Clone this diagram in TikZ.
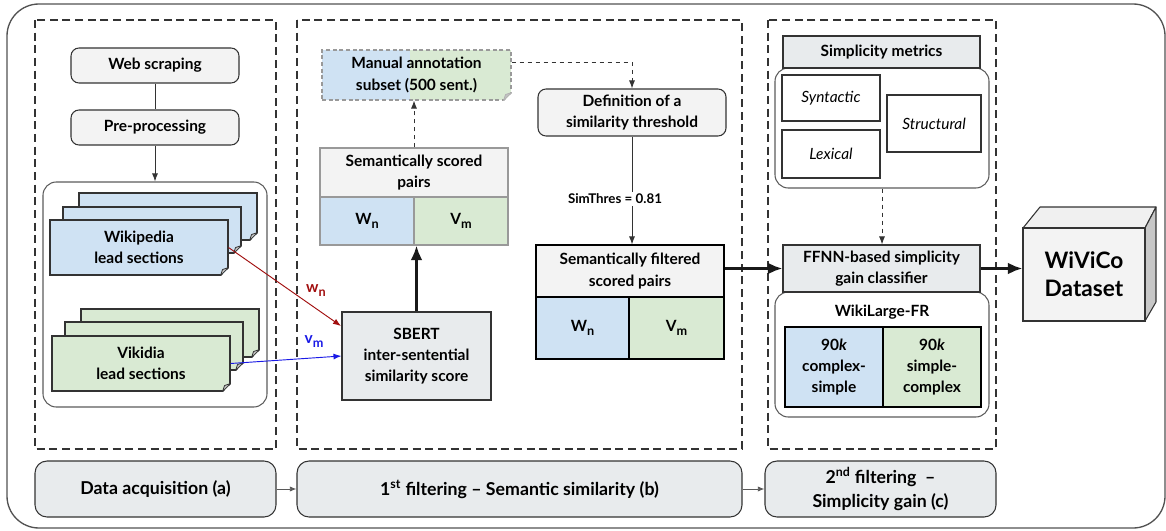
\documentclass[tikz,border=0pt]{standalone}
\usepackage{fontspec}
\setmainfont{Lato}
\usetikzlibrary{arrows.meta,calc,positioning}
\definecolor{docblue}{HTML}{CFE2F3}
\definecolor{docgreen}{HTML}{D9EAD3}
\definecolor{boxgray}{HTML}{F3F3F3}
\definecolor{stepgray}{HTML}{E8EBED}
\definecolor{edgegray}{HTML}{333333}
\definecolor{foldgray}{HTML}{9A9A9A}
\definecolor{wnred}{HTML}{A10E0E}
\definecolor{vmblue}{HTML}{1A1AE6}
\newcommand{\lbl}{\fontsize{11.6}{16}\selectfont\bfseries}
\newcommand{\sub}[1]{\raisebox{-0.5ex}{\fontsize{9.5}{9.5}\selectfont #1}}
\newcommand{\dogear}[2]{%
  \fill[white] ($(#1.south east)+(-8,1)$) -- ($(#1.south east)+(1,1)$) -- ($(#1.south east)+(1,-8)$) -- cycle;
  \filldraw[draw=#2, fill=foldgray!60, line width=0.6pt, line join=round] ($(#1.south east)+(-8,0)$) -- ($(#1.south east)+(0,-8)$) -- ($(#1.south east)+(-6,-6)$) -- cycle;}
\begin{document}
\begin{tikzpicture}[x=0.75pt, y=-0.75pt,
  sz/.style 2 args={minimum width=#1*0.75pt, minimum height=#2*0.75pt},
  box/.style={draw=edgegray, line width=0.8pt, inner sep=0pt, align=center, font=\lbl},
  roundbox/.style={box, rounded corners=6pt, fill=boxgray},
  stepbox/.style={box, rounded corners=9pt, fill=stepgray, font=\fontsize{13.3}{18}\selectfont\bfseries},
  holder/.style={draw=edgegray!80, line width=0.8pt, rounded corners=10pt, fill=white, inner sep=0pt},
  doc/.style={box, fill=#1},
  metric/.style={box, fill=white, font=\fontsize{11.6}{13}\selectfont\itshape},
  panel/.style={draw=edgegray, line width=0.9pt, dash pattern=on 6pt off 3.5pt},
  flow/.style={-{Latex[length=6pt,width=4.5pt]}, line width=0.7pt, draw=edgegray},
  dflow/.style={flow, dash pattern=on 3.5pt off 2.5pt},
  bigflow/.style={-{Latex[length=11pt,width=9pt]}, line width=2.4pt, draw=black!90}]
\useasboundingbox (0,0) rectangle (1166,531);
\draw[draw=edgegray!85, line width=1pt, rounded corners=24pt] (7,4) rectangle (1165,528);
\draw[panel] (35,20) rectangle (276,449);
\draw[panel] (297,20) rectangle (742,449);
\draw[panel] (768,20) rectangle (996,449);

\node[roundbox, sz={168}{35}] (web) at (155,65.5) {Web scraping};
\node[roundbox, sz={168}{35}] (prep) at (155,127.5) {Pre-processing};
\node[holder, sz={224}{225}] (acq) at (155,294.5) {};
\node[doc=docblue, sz={178}{47}] (wikiC) at (168,216.5) {}; \dogear{wikiC}{edgegray}
\node[doc=docblue, sz={178}{46}] (wikiB) at (152,230) {}; \dogear{wikiB}{edgegray}
\node[doc=docblue, sz={178}{55}] (wiki) at (139,247.5) {Wikipedia\\lead sections}; \dogear{wiki}{edgegray}
\node[doc=docgreen, sz={178}{48}] (vikiC) at (170,333) {}; \dogear{vikiC}{edgegray}
\node[doc=docgreen, sz={178}{48}] (vikiB) at (154,346) {}; \dogear{vikiB}{edgegray}
\node[doc=docgreen, sz={178}{55}] (viki) at (141,363.5) {Vikidia\\lead sections}; \dogear{viki}{edgegray}
\draw[line width=0.7pt, draw=edgegray] (web) -- (prep);
\draw[flow] (prep) -- (acq);

\node[box, fill=stepgray, sz={149}{88}] (sbert) at (416.5,356) {SBERT\\inter-sentential\\similarity score};
\node[box, draw=black!40, fill=boxgray, sz={188}{49}] (shead) at (414,172.5) {Semantically scored\\pairs};
\node[box, draw=black!40, fill=docblue, sz={94}{48}] (swn) at (367,221) {W\sub{n}};
\node[box, draw=black!40, fill=docgreen, sz={94}{48}] (svm) at (461,221) {V\sub{m}};
\node[box, draw=black!40, dash pattern=on 3pt off 2pt, sz={189}{50}, path picture={
  \fill[docblue] (path picture bounding box.north west) rectangle ($(path picture bounding box.south)+(-7,0)$);
  \fill[docgreen] ($(path picture bounding box.north)+(-7,0)$) rectangle (path picture bounding box.south east);}] (manual) at (416.5,75) {Manual annotation\\subset (500 sent.)};
\dogear{manual}{black!30}
\node[roundbox, sz={188}{47}] (defn) at (632,112.5) {Definition of a\\similarity threshold};
\node[box, draw=black, fill=boxgray, sz={188}{52}] (fhead) at (630,271) {Semantically filtered\\scored pairs};
\node[box, draw=black, fill=docblue, sz={93}{62}] (fwn) at (582.5,328) {W\sub{n}};
\node[box, draw=black, fill=docgreen, sz={95}{62}] (fvm) at (676.5,328) {V\sub{m}};
\coordinate (sbin) at (341,326);
\draw[flow, draw=wnred] (wiki.east) -- (sbin);
\draw[flow, draw=vmblue] (viki.east) -- (sbert.west);
\node[font=\lbl, text=wnred] (wnlab) at (316,291) {w\sub{n}};
\node[font=\lbl, text=vmblue] (vmlab) at (314,342) {v\sub{m}};
\draw[bigflow] (sbert.north) -- (sbert.north |- swn.south);
\draw[dflow] (shead.north) -- (shead.north |- manual.south);
\coordinate (mout) at ($(manual.north east)!0.25!(manual.south east)$);
\draw[dflow] (mout) -| (defn.north);
\draw[flow] (defn.south) -- (defn.south |- fhead.north);
\node[fill=white, inner sep=1.5pt, font=\fontsize{10}{11}\selectfont\bfseries] (simthres) at (615,199) {SimThres = 0.81};

\node[holder, sz={214}{120}] (mcont) at (882,128) {};
\node[box, fill=stepgray, sz={197}{32}] (mhead) at (881.5,52) {Simplicity metrics};
\node[metric, sz={98}{46}] (syn) at (831,98) {Syntactic};
\node[metric, sz={98}{48}] (lex) at (831,154) {Lexical};
\node[metric, sz={94}{57}] (struc) at (934,123.5) {Structural};
\node[holder, sz={214}{125}] (wlcont) at (882,354.5) {};
\node[box, fill=stepgray, sz={197}{47}] (ffnn) at (881.5,268.5) {FFNN-based simplicity\\gain classifier};
\node[font=\lbl] (wltitle) at (882,312) {WikiLarge-FR};
\node[box, draw=black, fill=docblue, sz={98}{80}] (wlcs) at (834,367) {90\textit{k}\\complex-\\simple};
\node[box, draw=black, fill=docgreen, sz={98}{80}] (wlsc) at (932,367) {90\textit{k}\\simple-\\complex};
\draw[dflow] (mcont.south) -- (mcont.south |- ffnn.north);
\draw[bigflow] (fhead.east |- ffnn.west) -- (ffnn.west);

\fill[black!6, draw=edgegray, line width=0.8pt, line join=round] (1023,228) -- (1040,207) -- (1156,207) -- (1145,228) -- cycle;
\fill[black!22, draw=edgegray, line width=0.8pt, line join=round] (1145,228) -- (1156,207) -- (1156,302) -- (1145,321) -- cycle;
\node[box, fill=boxgray, sz={122}{93}, font=\fontsize{17}{21}\selectfont\bfseries] (wiv) at (1084,274.5) {WiViCo\\Dataset};
\draw[bigflow] (ffnn.east) -- (ffnn.east -| wiv.west);

\node[stepbox, sz={241}{56}] (stepa) at (155.5,489) {Data acquisition (a)};
\node[stepbox, sz={445}{56}] (stepb) at (519.5,489) {1\textsuperscript{st} filtering -- Semantic similarity (b)};
\node[stepbox, sz={231}{56}] (stepc) at (880.5,489) {2\textsuperscript{nd} filtering~~--\\Simplicity gain (c)};
\draw[flow, draw=black!65, -{Latex[length=5pt,width=4pt]}] (stepa) -- (stepb);
\draw[flow, draw=black!65, -{Latex[length=5pt,width=4pt]}] (stepb) -- (stepc);
\end{tikzpicture}
\end{document}
